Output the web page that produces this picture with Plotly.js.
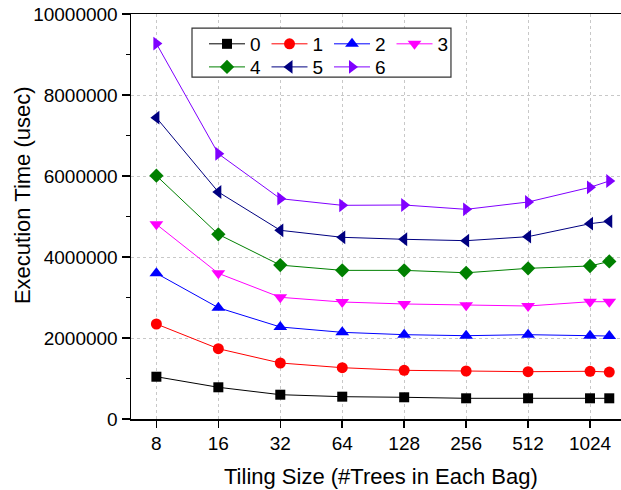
<!DOCTYPE html>
<html>
<head>
<meta charset="utf-8">
<script src="https://cdn.plot.ly/plotly-3.0.1.min.js"></script>
<style>
html,body{margin:0;padding:0;background:#fff;overflow:hidden;}
#chart{width:621px;height:490px;}
</style>
</head>
<body>
<div id="chart"></div>
<script>
// ---- data ----
const tilingSizes = [8, 16, 32, 64, 128, 256, 512, 1024, 1270];
const xTickVals = [8, 16, 32, 64, 128, 256, 512, 1024];
const xTickText = ["8", "16", "32", "64", "128", "256", "512", "1024"];
const yTickVals = [0, 2000000, 4000000, 6000000, 8000000, 10000000];
const yTickText = ["0", "2000000", "4000000", "6000000", "8000000", "10000000"];
const yMinorVals = [1000000, 3000000, 5000000, 7000000, 9000000];
const seriesNames = ["0", "1", "2", "3", "4", "5", "6"];
const xTitle = "Tiling Size (#Trees in Each Bag)";
const yTitle = "Execution Time (usec)";

const series0 = [1044000, 783000, 600000, 551000, 536000, 511000, 511000, 511000, 511000];
const series1 = [2346000, 1736000, 1383000, 1267000, 1202000, 1185000, 1168000, 1178000, 1160000];
const series2 = [3597000, 2748000, 2272000, 2140000, 2082000, 2057000, 2082000, 2057000, 2049000];
const series3 = [4807000, 3597000, 3005000, 2889000, 2840000, 2807000, 2790000, 2896000, 2896000];
const series4 = [6007000, 4560000, 3800000, 3670000, 3670000, 3610000, 3720000, 3778000, 3890000];
const series5 = [7440000, 5605000, 4659000, 4486000, 4437000, 4403000, 4502000, 4823000, 4880000];
const series6 = [9270000, 6550000, 5440000, 5276000, 5284000, 5177000, 5358000, 5720000, 5877000];

// ---- styling ----
const colors = ["#000000", "#ff0000", "#0000ff", "#ff00ff", "#008000", "#000080", "#8000ff"];
const symbols = ["square", "circle", "triangle-up", "triangle-down", "diamond", "triangle-left", "triangle-right"];
const sizes = [10, 11, 12, 12, 11, 12, 12];
const allSeries = [series0, series1, series2, series3, series4, series5, series6];

const FONT = "Liberation Sans, Arial, Helvetica, sans-serif";

const traces = allSeries.map((ys, i) => ({
  type: "scatter",
  mode: "lines+markers",
  x: tilingSizes,
  y: ys,
  name: seriesNames[i],
  legend: i < 4 ? "legend" : "legend2",
  line: {color: colors[i], width: 1},
  marker: {color: colors[i], symbol: symbols[i], size: sizes[i], line: {width: 0}}
}));

const lg = (i) => ({
  orientation: "h",
  bgcolor: "rgba(0,0,0,0)",
  borderwidth: 0,
  font: {family: FONT, size: 19, color: "#000"},
  itemwidth: 36,
  entrywidth: 11.5,
  entrywidthmode: "pixels",
  xanchor: "left",
  yanchor: "middle",
  x: 0.149,
  y: i === 0 ? 0.926 : 0.869,
  traceorder: "normal",
  itemclick: false
});

const layout = {
  width: 621,
  height: 490,
  margin: {l: 131, r: 0, t: 14, b: 71},
  paper_bgcolor: "#ffffff",
  plot_bgcolor: "#ffffff",
  font: {family: FONT, size: 19, color: "#000"},
  showlegend: true,
  legend: lg(0),
  legend2: lg(1),
  xaxis: {
    type: "log",
    range: [0.7797, 3.1608],
    tickmode: "array",
    tickvals: xTickVals,
    ticktext: xTickText,
    ticks: "outside",
    ticklen: 7,
    tickwidth: 1.5,
    tickcolor: "#000",
    showline: true,
    linecolor: "#000",
    linewidth: 1.5,
    mirror: true,
    showgrid: true,
    gridcolor: "#c8c8c8",
    griddash: "3px,3px",
    gridwidth: 1,
    zeroline: false,
    tickfont: {family: FONT, size: 19, color: "#000"}
  },
  xaxis2: {
    type: "log",
    overlaying: "x",
    side: "top",
    range: [0.7797, 3.1608],
    tickmode: "array",
    tickvals: xTickVals,
    ticks: "inside",
    ticklen: 7,
    tickwidth: 1.5,
    tickcolor: "#000",
    showticklabels: false,
    showgrid: false,
    showline: false,
    zeroline: false
  },
  yaxis: {
    range: [0, 10000000],
    tickmode: "array",
    tickvals: yTickVals,
    ticktext: yTickText,
    ticks: "outside",
    ticklen: 8,
    tickwidth: 1.5,
    tickcolor: "#000",
    minor: {tickvals: yMinorVals, ticks: "outside", ticklen: 4, tickwidth: 1.5, tickcolor: "#000", showgrid: false},
    showline: true,
    linecolor: "#000",
    linewidth: 1.5,
    mirror: false,
    showgrid: true,
    gridcolor: "#c8c8c8",
    griddash: "3px,3px",
    gridwidth: 1,
    zeroline: false,
    tickfont: {family: FONT, size: 19, color: "#000"}
  },
  annotations: [
    {text: xTitle, xref: "paper", yref: "paper", x: 0.51, y: -0.143,
     xanchor: "center", yanchor: "middle", showarrow: false,
     font: {family: FONT, size: 22, color: "#000"}},
    {text: yTitle, xref: "paper", yref: "paper", x: -0.2224, y: 0.553,
     xanchor: "center", yanchor: "middle", showarrow: false, textangle: -90,
     font: {family: FONT, size: 22, color: "#000"}}
  ],
  shapes: [{
    type: "rect", xref: "paper", yref: "paper",
    x0: 0.1245, x1: 0.653, y0: 0.844, y1: 0.965,
    line: {color: "#333", width: 1.2},
    fillcolor: "#ffffff",
    layer: "above"
  }]
};

Plotly.newPlot("chart", traces, layout, {displayModeBar: false, staticPlot: true});
</script>
</body>
</html>
